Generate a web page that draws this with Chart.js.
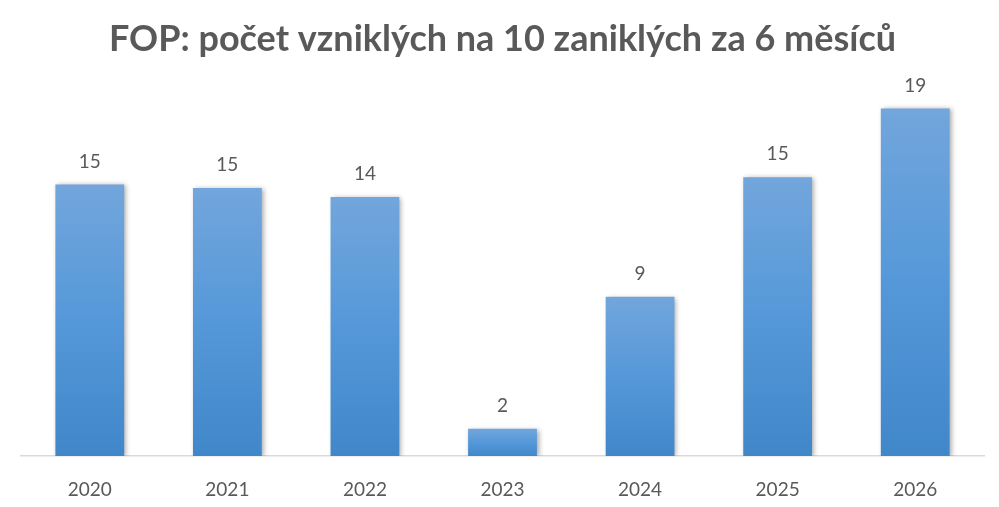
<!DOCTYPE html>
<html>
<head>
<meta charset="utf-8">
<script src="https://cdn.jsdelivr.net/npm/chart.js@4"></script>
<style>
  html, body { margin: 0; padding: 0; background: #fff; }
  #wrap { width: 999px; height: 507px; }
</style>
</head>
<body>
<div id="wrap"><canvas id="barChart"></canvas></div>
<script>
// DATA

const years = ["2020", "2021", "2022", "2023", "2024", "2025", "2026"];
const values = [15.0, 14.8, 14.3, 1.5, 8.8, 15.4, 19.2];
const titleText = "FOP: počet vzniklých na 10 zaniklých za 6 měsíců";

const textColor = "#595959";
const fontFamily = "Lato, 'Open Sans', sans-serif";

// per-bar vertical gradient, lighter on top
function barFill(ctx) {
  const chart = ctx.chart;
  const area = chart.chartArea;
  if (!area || ctx.type !== "data") return "rgba(84, 150, 214, 1)";
  const y = chart.scales.y;
  const top = y.getPixelForValue(ctx.raw);
  const bottom = y.getPixelForValue(0);
  const g = chart.ctx.createLinearGradient(0, top, 0, bottom);
  g.addColorStop(0, "rgba(114, 166, 220, 1)");
  g.addColorStop(0.5, "rgba(85, 152, 217, 1)");
  g.addColorStop(1, "rgba(64, 135, 201, 1)");
  return g;
}

// soft shadow behind bars + value labels on top
const barExtras = {
  id: "barExtras",
  beforeDatasetsDraw(chart) {
    const c = chart.ctx;
    c.save();
    c.shadowColor = "rgba(0, 0, 0, 0.35)";
    c.shadowBlur = 5;
    c.shadowOffsetX = 2;
    c.shadowOffsetY = 1;
  },
  afterDatasetsDraw(chart) {
    const c = chart.ctx;
    c.restore();
    c.save();
    c.fillStyle = textColor;
    c.font = "19px " + fontFamily;
    c.textAlign = "center";
    c.textBaseline = "middle";
    chart.getDatasetMeta(0).data.forEach((bar, i) => {
      c.fillText(String(Math.round(values[i])), bar.x, bar.y - 23);
    });
    c.restore();
  },
};

// BAR CHART

const barChart = document.getElementById("barChart");

new Chart(barChart, {
  type: "bar",
  data: {
    labels: years,
    datasets: [
      {
        label: "FOP",
        data: values,
        backgroundColor: barFill,
        borderWidth: 0,
        categoryPercentage: 0.5,
        barPercentage: 1,
      },
    ],
  },
  options: {
    responsive: true,
    maintainAspectRatio: false,
    animation: false,
    layout: {
      padding: { left: 21, right: 15, top: 0, bottom: 11 },
    },
    plugins: {
      legend: { display: false },
      tooltip: { enabled: false },
      title: {
        display: true,
        text: titleText,
        color: textColor,
        font: { family: fontFamily, size: 36, weight: "bold", lineHeight: 1.2 },
        padding: { top: 18, bottom: 11 },
      },
    },
    scales: {
      x: {
        grid: { display: false },
        border: { display: true, color: "#d9d9d9", width: 1.5 },
        ticks: {
          color: textColor,
          font: { family: fontFamily, size: 19 },
          padding: 14,
        },
        afterFit(scale) {
          scale.height = 40;
        },
      },
      y: {
        display: false,
        min: 0,
        max: 21.2,
      },
    },
  },
  plugins: [barExtras],
});
</script>
</body>
</html>
